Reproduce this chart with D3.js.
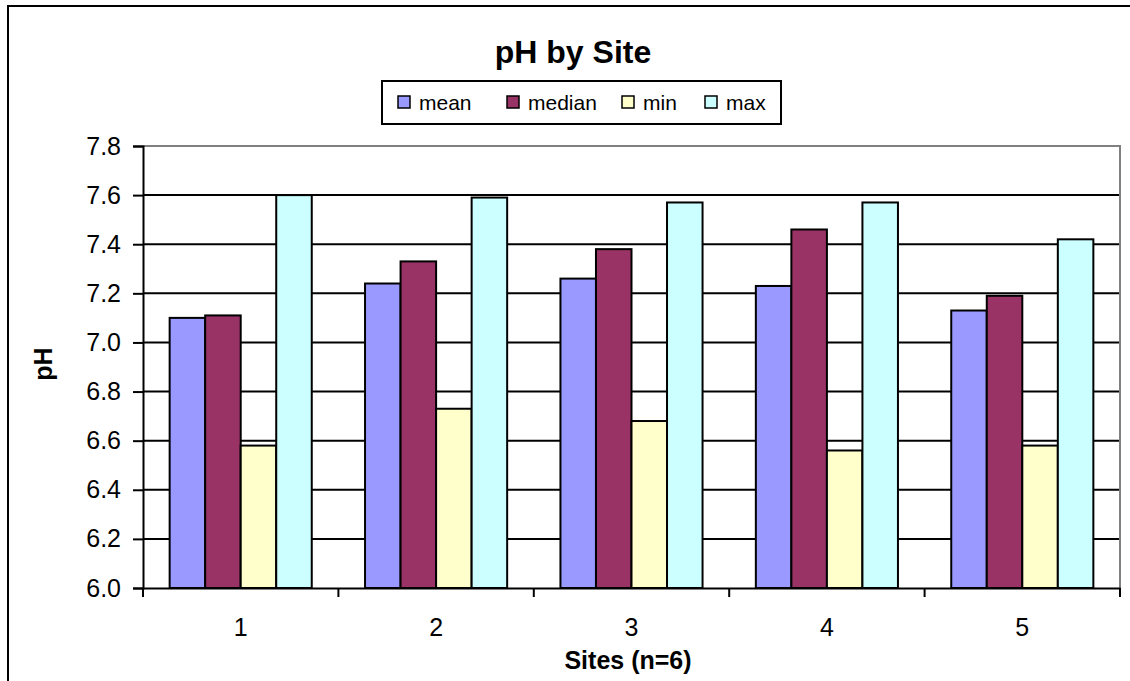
<!DOCTYPE html>
<html>
<head>
<meta charset="utf-8">
<script src="https://cdn.jsdelivr.net/npm/d3@7"></script>
<style>
  html, body { margin: 0; padding: 0; background: #fff; overflow: hidden; }
  svg { display: block; font-family: Arial, "Liberation Sans", sans-serif; }
</style>
</head>
<body>
<svg id="chart" width="1130" height="681"></svg>
<script>
const sites = ["1", "2", "3", "4", "5"];
const seriesNames = ["mean", "median", "min", "max"];
const meanVals   = [7.10, 7.24, 7.26, 7.23, 7.13];
const medianVals = [7.11, 7.33, 7.38, 7.46, 7.19];
const minVals    = [6.58, 6.73, 6.68, 6.56, 6.58];
const maxVals    = [7.60, 7.59, 7.57, 7.57, 7.42];
const yTicks = [6.0, 6.2, 6.4, 6.6, 6.8, 7.0, 7.2, 7.4, 7.6, 7.8];
const colors = ["#9999FF", "#993366", "#FFFFCC", "#CCFFFF"];

const seriesVals = [meanVals, medianVals, minVals, maxVals];
const data = sites.map((s, i) => ({ site: s, values: seriesNames.map((n, j) => ({ key: n, value: seriesVals[j][i] })) }));

const svg = d3.select("#chart");
const pLeft = 143, pRight = 1120, pTop = 146, pBottom = 588;
const FONT = "Arial, 'Liberation Sans', sans-serif";

// outer chart frame
svg.append("rect").attr("x", 8).attr("y", 6).attr("width", 1140).attr("height", 700)
  .attr("fill", "none").attr("stroke", "#000").attr("stroke-width", 2);

const x0 = d3.scaleBand().domain(sites).range([pLeft, pRight]).paddingInner(0).paddingOuter(0);
const bw = x0.bandwidth() / 5.5;
const x1 = d3.scaleBand().domain(seriesNames).range([0, bw * 4]);
const y = d3.scaleLinear().domain([6.0, 7.8]).range([pBottom, pTop]);

// gridlines
svg.append("g").selectAll("line").data(yTicks.filter(t => t > 6.0 && t < 7.8)).join("line")
  .attr("x1", pLeft).attr("x2", pRight).attr("y1", d => y(d)).attr("y2", d => y(d))
  .attr("stroke", "#000").attr("stroke-width", 2);

// plot border top/right (gray)
svg.append("path").attr("d", `M${pLeft},${y(7.8)}H${pRight}V${pBottom}`)
  .attr("fill", "none").attr("stroke", "#808080").attr("stroke-width", 2);

// bars
const groups = svg.append("g").selectAll("g").data(data).join("g")
  .attr("transform", d => `translate(${x0(d.site) + bw * 0.75},0)`);
groups.selectAll("rect").data(d => d.values).join("rect")
  .attr("x", d => x1(d.key)).attr("width", x1.bandwidth())
  .attr("y", d => y(d.value)).attr("height", d => y(6.0) - y(d.value))
  .attr("fill", (d, i) => colors[i]).attr("stroke", "#000").attr("stroke-width", 2);

// y axis
const yAxis = d3.axisLeft(y).tickValues(yTicks).tickFormat(d3.format(".1f")).tickSize(10).tickPadding(12);
const ya = svg.append("g").attr("transform", `translate(${pLeft},0)`).call(yAxis);
ya.select(".domain").attr("stroke", "#000").attr("stroke-width", 2);
ya.selectAll(".tick line").attr("stroke", "#000").attr("stroke-width", 2);
ya.selectAll(".tick text").attr("font-size", 25).attr("fill", "#000").attr("font-family", FONT);

// x axis
const xAxis = d3.axisBottom(x0).tickSize(0).tickPadding(0);
const xa = svg.append("g").attr("transform", `translate(0,${pBottom})`).call(xAxis);
xa.select(".domain").attr("stroke", "#000").attr("stroke-width", 2);
xa.selectAll(".tick text").attr("font-size", 25).attr("fill", "#000").attr("dy", 0).attr("y", 48)
  .attr("font-family", FONT);
// category boundary ticks
const bounds = sites.map(s => x0(s)).concat([pRight]);
svg.append("g").selectAll("line").data(bounds).join("line")
  .attr("x1", d => d).attr("x2", d => d).attr("y1", pBottom).attr("y2", pBottom + 9)
  .attr("stroke", "#000").attr("stroke-width", 2);

// title
svg.append("text").attr("x", 573).attr("y", 63).attr("text-anchor", "middle")
  .attr("font-size", 32).attr("font-weight", "bold").text("pH by Site");

// axis titles
svg.append("text").attr("x", 628).attr("y", 669).attr("text-anchor", "middle")
  .attr("font-size", 25).attr("font-weight", "bold").text("Sites (n=6)");
svg.append("text").attr("transform", "translate(52,364) rotate(-90)").attr("text-anchor", "middle")
  .attr("font-size", 25).attr("font-weight", "bold").text("pH");

// legend
const lg = svg.append("g");
lg.append("rect").attr("x", 382).attr("y", 81).attr("width", 399).attr("height", 43)
  .attr("fill", "#fff").attr("stroke", "#000").attr("stroke-width", 2);
const legX = [398, 507, 622, 705];
seriesNames.forEach((n, i) => {
  lg.append("rect").attr("x", legX[i]).attr("y", 96).attr("width", 12).attr("height", 12)
    .attr("fill", colors[i]).attr("stroke", "#000").attr("stroke-width", 1.5);
  lg.append("text").attr("x", legX[i] + 21).attr("y", 110).attr("font-size", 21).text(n);
});
</script>
</body>
</html>
